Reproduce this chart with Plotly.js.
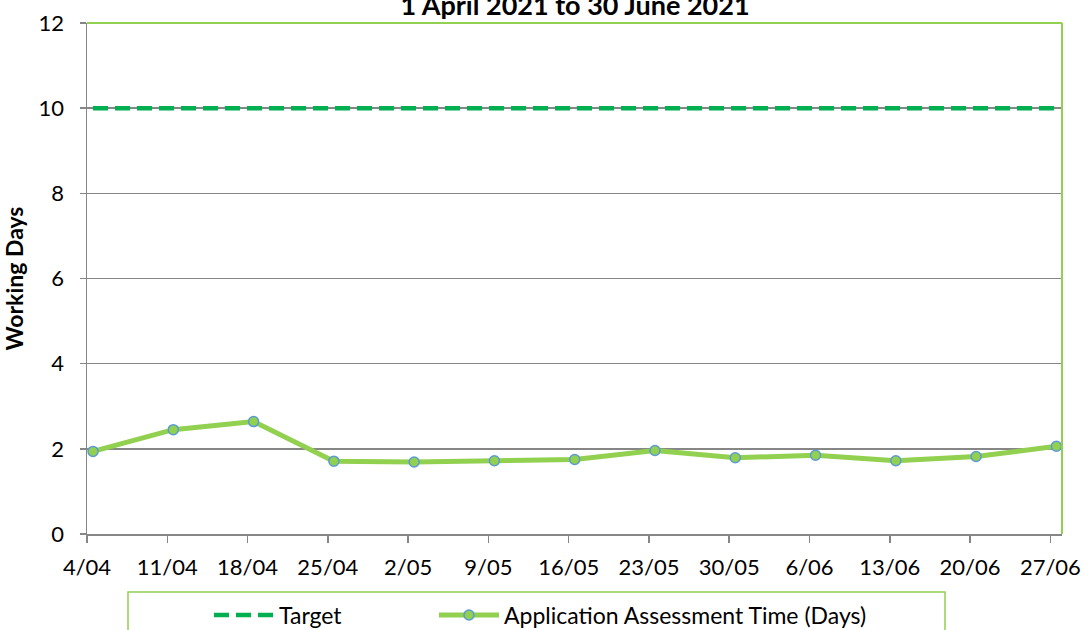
<!DOCTYPE html>
<html>
<head>
<meta charset="utf-8">
<script src="https://cdn.plot.ly/plotly-3.0.1.min.js"></script>
<style>html,body{margin:0;padding:0;background:#fff;}#chart{width:1089px;height:630px;}</style>
</head>
<body>
<div id="chart"></div>
<script>
const weeks = ["4/04","11/04","18/04","25/04","2/05","9/05","16/05","23/05","30/05","6/06","13/06","20/06","27/06"];
const targetDays = [10,10,10,10,10,10,10,10,10,10,10,10,10];
const assessmentDays = [1.94,2.45,2.64,1.71,1.69,1.72,1.75,1.96,1.79,1.85,1.72,1.82,2.06];
const yTicks = [0,2,4,6,8,10,12];

const idx = weeks.map((_, i) => i);
const tickPos = idx.map(i => i - 0.075);
const FONT = "Lato, 'Open Sans', sans-serif";

const traces = [
  {
    x: idx, y: targetDays, name: "Target", type: "scatter", mode: "lines",
    line: {color: "#00B050", width: 4.5, dash: "15px,7px"},
    legend: "legend"
  },
  {
    x: idx, y: assessmentDays, name: "Application Assessment Time (Days)", type: "scatter", mode: "lines+markers",
    line: {color: "#92D050", width: 5},
    marker: {size: 10, color: "#92D050", line: {color: "#5B9BD5", width: 1.5}},
    legend: "legend2"
  }
];

const legendBase = {
  orientation: "h",
  xref: "container", yref: "container",
  xanchor: "left", yanchor: "middle",
  y: 1 - 615/630,
  itemwidth: 60,
  font: {family: FONT, size: 23, color: "#000000"},
  bgcolor: "rgba(0,0,0,0)", borderwidth: 0
};

const layout = {
  width: 1089, height: 630,
  margin: {l: 87, r: 27, t: 23, b: 96, pad: 0, autoexpand: false},
  paper_bgcolor: "#ffffff", plot_bgcolor: "#ffffff",
  font: {family: FONT, size: 22, color: "#000000"},
  showlegend: true,
  title: {
    text: "<b>1 April 2021 to 30 June 2021</b>",
    font: {family: FONT, size: 27, color: "#000000"},
    x: 575/1089, xref: "container", xanchor: "center",
    y: 1 - 15/630, yref: "container", yanchor: "bottom"
  },
  xaxis: {
    range: [-0.075, 12.07],
    tickmode: "array", tickvals: tickPos, ticktext: weeks,
    showgrid: false, zeroline: false,
    showline: true, linecolor: "#868686", linewidth: 1.5,
    ticks: "outside", ticklen: 7, tickwidth: 1.5, tickcolor: "#868686",
    ticklabelstandoff: 6,
    tickfont: {family: FONT, size: 22, color: "#000000"},
    fixedrange: true
  },
  yaxis: {
    range: [0, 12],
    tickmode: "array", tickvals: yTicks,
    showgrid: true, gridcolor: "#868686", gridwidth: 1.5,
    zeroline: false,
    showline: true, linecolor: "#868686", linewidth: 1.5,
    ticks: "outside", ticklen: 6, tickwidth: 1.5, tickcolor: "#868686",
    ticklabelstandoff: 11,
    tickfont: {family: FONT, size: 22, color: "#000000"},
    title: {text: "<b>Working Days</b>", font: {family: FONT, size: 23, color: "#000000"}, standoff: 20},
    fixedrange: true
  },
  legend: Object.assign({}, legendBase, {x: 209/1089}),
  legend2: Object.assign({}, legendBase, {x: 434/1089}),
  shapes: [
    {type: "line", xref: "paper", yref: "paper", x0: 0, x1: 1, y0: 1, y1: 1, line: {color: "#92D050", width: 2}, layer: "above"},
    {type: "line", xref: "paper", yref: "paper", x0: 1, x1: 1, y0: 0, y1: 1, line: {color: "#92D050", width: 2}, layer: "above"},
    {type: "rect", xref: "paper", yref: "paper", x0: (128-87)/975, x1: (945-87)/975, y0: (534-592)/511, y1: (534-660)/511, line: {color: "#92D050", width: 1.5}, fillcolor: "rgba(0,0,0,0)", layer: "above"}
  ]
};

Plotly.newPlot("chart", traces, layout, {displayModeBar: false, staticPlot: true});
</script>
</body>
</html>
